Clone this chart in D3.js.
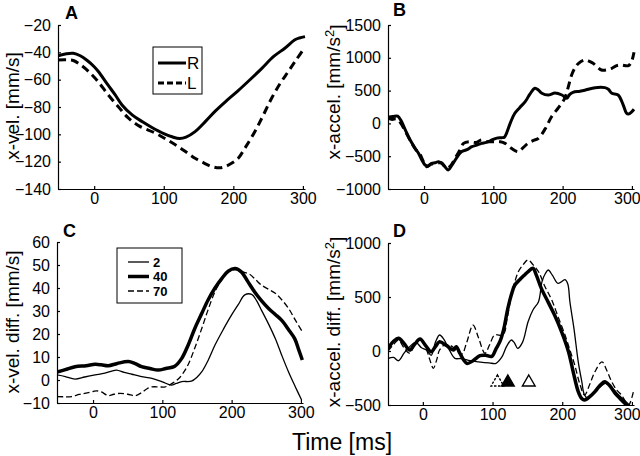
<!DOCTYPE html>
<html><head><meta charset="utf-8">
<script src="https://cdn.jsdelivr.net/npm/d3@7/dist/d3.min.js"></script>
<style>
html,body{margin:0;padding:0;background:#fff;}
svg text{font-family:"Liberation Sans",Arial,Helvetica,sans-serif;fill:#000;}
</style></head>
<body><svg id="c" width="640" height="456"></svg>
<script>
// ---------- DATA (time ms, value) ----------
const velR = [[-52,-42.5],[-40,-41],[-30,-40.7],[-20,-42.5],[-10,-46],[0,-50.5],[6,-54],[20,-64],[30,-71],[40,-78.5],[55,-86],[70,-91],[83,-95],[100,-99.5],[113,-102],[123,-103],[132,-102],[145,-98],[160,-90.5],[174,-83],[190,-75.5],[207,-68],[225,-59.5],[241,-51.7],[258,-43],[274,-37],[288,-31],[295,-29.5],[303,-28.5]];
const velL = [[-52,-45.6],[-40,-45.5],[-30,-46],[-20,-49],[-8,-54],[5,-61],[20,-71],[35,-80],[49,-88],[65,-94],[87.5,-99],[105,-104],[121,-109],[135,-114],[145,-117.5],[158,-121],[169,-123.6],[180,-124.5],[188,-123.6],[198,-121],[207,-117.5],[218,-109],[231,-98],[243,-86],[255,-73.6],[267,-63],[279,-54],[291,-45],[302,-37]];

const accR = [[-52,95],[-45,105],[-38,110],[-33,40],[-27,-100],[-20,-253],[-14,-360],[-8,-456],[-3,-560],[1.5,-634],[6,-650],[11,-608],[16,-600],[21,-583],[28,-634],[35,-710],[40,-640],[45,-558],[50,-480],[54,-431],[62,-400],[69,-355],[76,-330],[83,-304],[90,-290],[98,-253],[105,-225],[112,-218],[116,-210],[119,-151],[125,20],[131,154],[138,240],[146,331],[153,450],[160,535],[165,510],[170,460],[179,433],[189,463],[199,433],[206,383],[210,440],[215,474],[225,490],[232,505],[247,545],[261,545],[266,520],[271,459],[280,433],[287.5,280],[292,160],[295,143],[300,180],[303,215]];
const accL = [[-52,80],[-46,60],[-40,70],[-34,10],[-28,-100],[-20,-260],[-12,-400],[-6,-470],[0,-600],[4,-660],[10,-620],[18,-610],[25,-600],[32,-680],[38,-650],[45,-530],[52,-400],[57,-304],[65,-280],[75,-290],[83,-253],[92,-280],[102,-278],[110,-280],[117,-304],[126,-380],[136,-431],[143,-370],[150,-304],[158,-260],[165,-228],[175,-80],[184,102],[194,240],[203,383],[208,550],[213,738],[218,850],[223,916],[232,966],[238,950],[244,916],[250,860],[256,814],[263,815],[271,840],[278,880],[285,890],[295,880],[300,960],[303,1084]];

const vd2  = [[-52,2.2],[-40,1.5],[-26,0.4],[-12,1.3],[3,2.2],[17,3],[28,4],[34,4.3],[45,3.3],[56,2.5],[70,1.5],[85,0.7],[100,-0.8],[113,-2.2],[120,-1.5],[128,-0.7],[142,-0.5],[150,1.2],[157,3.6],[166,8.5],[176,15.2],[188,22],[200,28.3],[210,33],[219,37],[229,37.2],[236,34.5],[243,30.4],[253,24.5],[263,18],[272,11],[282,3.6],[292,-3],[301,-8.7]];
const vd40 = [[-52,3.4],[-40,4.5],[-26,5.8],[-10,6.2],[3,6.8],[12,6.6],[22,6.2],[35,7.2],[51,8],[60,7.2],[70,5.8],[82,5],[94,4.3],[105,5],[118,6],[128,9.4],[137,15],[147,22.5],[157,29],[166,34.8],[176,40],[186,44.2],[195,47.3],[205,48.5],[214,47],[223,43],[233,38.4],[243,34.5],[253,31.2],[263,28.5],[272,26],[282,22],[291,18],[297,13],[302,8.7]];
const vd70 = [[-52,-7.2],[-40,-7.3],[-31,-7.2],[-20,-6.3],[-12,-5.8],[0,-5],[5,-4.7],[12,-5.2],[22,-6.8],[30,-6.2],[39,-5.8],[50,-6.2],[61,-6.8],[70,-5.5],[78,-3.8],[85,-3],[95,-3],[104,-3],[113,-1.7],[123,0.4],[130,3],[137,6.5],[147,14],[157,22.5],[166,30.5],[176,38.4],[186,43.8],[195,47.1],[207,48],[216,47],[226,46],[235,43.5],[243,41.3],[253,39.5],[263,37.7],[272,35],[282,31.2],[292,26],[302,21]];

const ad2  = [[-50,-70],[-42,-60],[-35,-90],[-27,-20],[-19,40],[-10,80],[-2,30],[5,10],[12,-40],[18,80],[24,148],[30,110],[38,10],[46,-68],[55,-70],[68,-90],[80,-100],[95,-110],[105,-114],[113,-60],[120,40],[127,102],[131,80],[136,25],[143,80],[151,271],[158,380],[166,457],[171,642],[176,720],[180,750],[186,700],[194,627],[204,660],[208,620],[211,457],[217,200],[223,-100],[228,-280],[232,-407],[238,-440],[245,-380],[255,-330],[262,-300],[270,-330],[280,-400],[290,-460],[298,-510]];
const ad40 = [[-50,25],[-42,90],[-35,118],[-27,70],[-19,9],[-12,60],[-4,111],[4,50],[12,-6],[18,40],[24,86],[34,50],[44,9],[48,40],[53,-20],[63,-114],[72,-90],[82,-43],[90,-40],[99,-50],[105,20],[111,93],[116,200],[122,395],[127,520],[132,611],[139,660],[146,704],[152,740],[158,766],[163,700],[170,580],[180,450],[189,333],[199,180],[209,-6],[216,-200],[223,-376],[228,-440],[232,-453],[240,-420],[247,-376],[254,-320],[261,-284],[268,-320],[276,-392],[283,-440],[290,-485],[295,-510]];
const ad70 = [[-50,0],[-42,60],[-35,100],[-27,30],[-19,-20],[-10,80],[-2,110],[5,20],[10,-80],[15,-160],[20,-80],[24,9],[32,60],[40,50],[48,10],[56,-28],[63,80],[72,240],[80,120],[89,-21],[96,60],[103,148],[115,148],[121,300],[127,519],[132,640],[137,734],[144,800],[151,843],[158,800],[166,734],[175,600],[185,472],[195,300],[204,148],[211,10],[218,-130],[225,-300],[232,-407],[240,-300],[247,-191],[257,-100],[264,-180],[271,-284],[278,-360],[285,-407],[295,-500],[302,-380]];

const markerTimes = [107, 122, 152];
const markerKinds = ["dashed", "filled", "open"];
const markerLevel = -290;

const xTicks = [0, 100, 200, 300];
const yTicksA = [-140,-120,-100,-80,-60,-40,-20];
const yTicksB = [-1000,-500,0,500,1000,1500];
const yTicksC = [-10,0,10,20,30,40,50,60];
const yTicksD = [-500,0,500,1000];
const legendA = ["R","L"];
const legendC = ["2","40","70"];

// ---------- DRAW ----------
const svg = d3.select("#c");
function panel(cfg){
  const g = svg.append("g");
  const x = d3.scaleLinear().domain(cfg.xd).range(cfg.xr);
  const y = d3.scaleLinear().domain(cfg.yd).range(cfg.yr);
  const id = "clip"+cfg.letter;
  svg.append("clipPath").attr("id",id).append("rect")
    .attr("x",cfg.xr[0]).attr("y",cfg.yr[1]-2).attr("width",cfg.xr[1]-cfg.xr[0]+2).attr("height",cfg.yr[0]-cfg.yr[1]+3);
  const ax = g.append("g").attr("transform",`translate(0,${cfg.yr[0]})`)
    .call(d3.axisBottom(x).tickValues(xTicks).tickFormat(d3.format("d")).tickSizeInner(-3).tickSizeOuter(0).tickPadding(4));
  const ay = g.append("g").attr("transform",`translate(${cfg.xr[0]},0)`)
    .call(d3.axisLeft(y).tickValues(cfg.yt).tickFormat(d3.format("d")).tickSizeInner(-3).tickSizeOuter(0).tickPadding(7));
  [ax,ay].forEach(a=>{a.selectAll("text").style("font-size","16px").attr("fill","#000");
    a.selectAll("path,line").attr("stroke","#000").attr("stroke-width",1.2);});
  if(cfg.shiftLast){ ax.selectAll(".tick text").filter(d=>d===300).attr("dx",cfg.shiftLast); }
  const line = d3.line().x(d=>x(d[0])).y(d=>y(d[1])).curve(d3.curveCatmullRom.alpha(0.5));
  const lg = g.append("g").attr("clip-path",`url(#${id})`);
  cfg.series.forEach(s=>{
    lg.append("path").attr("d",line(s.data)).attr("fill","none").attr("stroke","#000")
      .attr("stroke-width",s.w).attr("stroke-dasharray",s.dash||null).attr("stroke-linejoin","round");
  });
  g.append("text").attr("x",cfg.lx).attr("y",cfg.ly).text(cfg.letter)
    .style("font-size","18px").style("font-weight","bold");
  const t = g.append("text").attr("transform",`translate(${cfg.labx},${cfg.laby}) rotate(-90)`)
    .attr("text-anchor","middle").style("font-size","19px");
  cfg.ylabel.forEach(p=>{
    const ts=t.append("tspan").text(p.t);
    if(p.sup){ts.attr("dy","-0.45em").style("font-size","13px");}
    if(p.after){ts.attr("dy","0.45em");}
  });
  return {g,x,y};
}

const A = panel({letter:"A",xd:[-52,303],xr:[58,305],yd:[-140,-20],yr:[189,25],yt:yTicksA,lx:65,ly:19,labx:19,laby:106,
  ylabel:[{t:"x-vel. [mm/s]"}],
  series:[{data:velR,w:3},{data:velL,w:3,dash:"8,5"}]});
const B = panel({letter:"B",xd:[-52,303],xr:[388,634],yd:[-1000,1500],yr:[189,25],yt:yTicksB,lx:393,ly:16,labx:340,laby:92,shiftLast:-5,
  ylabel:[{t:"x-accel. [mm/s"},{t:"2",sup:true},{t:"]",after:true}],
  series:[{data:accL,w:3,dash:"8,5"},{data:accR,w:3}]});
const C = panel({letter:"C",xd:[-52,303],xr:[57,303],yd:[-10,60],yr:[403,242],yt:yTicksC,lx:63,ly:237,labx:19,laby:322,
  ylabel:[{t:"x-vel. diff. [mm/s]"}],
  series:[{data:vd2,w:1.3},{data:vd70,w:1.3,dash:"6,3"},{data:vd40,w:3.5}]});
const D = panel({letter:"D",xd:[-50,303],xr:[388,634],yd:[-500,1000],yr:[405,243],yt:yTicksD,lx:393,ly:237,labx:340,laby:322,shiftLast:-5,
  ylabel:[{t:"x-accel. diff. [mm/s"},{t:"2",sup:true},{t:"]",after:true}],
  series:[{data:ad2,w:1.3},{data:ad70,w:1.3,dash:"6,3"},{data:ad40,w:3.5}]});

// legend A
const lgA = A.g.append("g");
lgA.append("rect").attr("x",153).attr("y",47).attr("width",49).attr("height",47).attr("fill","#fff").attr("stroke","#000").attr("stroke-width",1);
legendA.forEach((n,i)=>{
  const yy = 63 + i*20;
  lgA.append("line").attr("x1",158).attr("x2",186).attr("y1",yy).attr("y2",yy).attr("stroke","#000").attr("stroke-width",3).attr("stroke-dasharray",i?"6,3":null);
  lgA.append("text").attr("x",187).attr("y",yy+6).text(n).style("font-size","17px");
});
// legend C
const lgC = C.g.append("g");
lgC.append("rect").attr("x",117).attr("y",248).attr("width",65).attr("height",55).attr("fill","#fff").attr("stroke","#000").attr("stroke-width",1);
const lcW=[1.3,3.5,1.3], lcD=[null,null,"6,3"], lcY=[262,276.5,291];
legendC.forEach((n,i)=>{
  lgC.append("line").attr("x1",128).attr("x2",149).attr("y1",lcY[i]).attr("y2",lcY[i]).attr("stroke","#000").attr("stroke-width",lcW[i]).attr("stroke-dasharray",lcD[i]);
  lgC.append("text").attr("x",153).attr("y",lcY[i]+4.5).text(n).style("font-size","13px").style("font-weight","bold");
});
// markers D
const tri = d3.symbol().type(d3.symbolTriangle).size(70);
markerTimes.forEach((t,i)=>{
  D.g.append("path").attr("d",tri()).attr("transform",`translate(${D.x(t)},${D.y(markerLevel)})`)
    .attr("fill",markerKinds[i]==="filled"?"#000":"#fff").attr("stroke","#000").attr("stroke-width",1.4)
    .attr("stroke-dasharray",markerKinds[i]==="dashed"?"2.5,1.5":null);
});
// x label
svg.append("text").attr("x",342).attr("y",450).attr("text-anchor","middle").text("Time [ms]").style("font-size","23px");
</script></body></html>
